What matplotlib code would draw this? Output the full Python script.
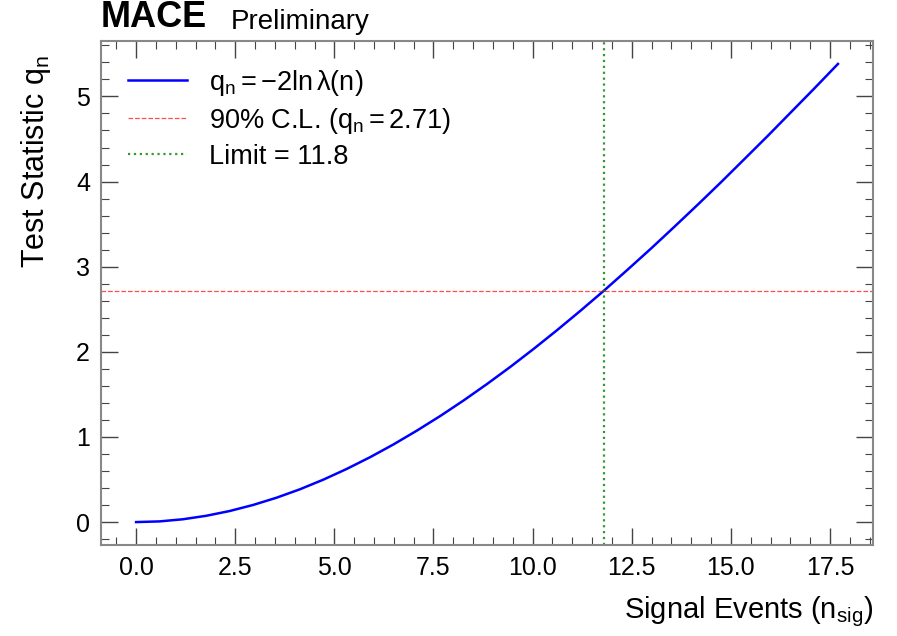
# Test statistic scan for MACE signal events
import matplotlib
matplotlib.use('Agg')
import matplotlib.pyplot as plt
from matplotlib.ticker import MultipleLocator, FormatStrFormatter

plt.rcParams['font.family'] = ['Liberation Sans', 'DejaVu Sans']
plt.rcParams['mathtext.fontset'] = 'custom'
plt.rcParams['mathtext.rm'] = 'Liberation Sans'
plt.rcParams['mathtext.it'] = 'Liberation Sans'
plt.rcParams['mathtext.default'] = 'regular'

# values
n_sig = [0.0, 0.59, 1.18, 1.77, 2.36, 2.95, 3.54, 4.13, 4.72, 5.31, 5.90,
         6.49, 7.08, 7.67, 8.26, 8.85, 9.44, 10.03, 10.62, 11.21, 11.80,
         12.39, 12.98, 13.57, 14.16, 14.75, 15.34, 15.93, 16.52, 17.11, 17.70]
q_n = [0.0, 0.008, 0.033, 0.074, 0.130, 0.201, 0.286, 0.385, 0.498, 0.624, 0.762,
       0.912, 1.074, 1.246, 1.429, 1.622, 1.824, 2.036, 2.256, 2.484, 2.719,
       2.963, 3.211, 3.467, 3.727, 3.992, 4.264, 4.537, 4.817, 5.097, 5.382]
cl_level = 2.71
limit = 11.8

fig = plt.figure(figsize=(8.97, 6.36), dpi=100)
ax = fig.add_axes([0.1126, 0.1431, 0.8607, 0.7924])

ax.plot(n_sig, q_n, color='blue', lw=1.8, label=r'$q_n = -2\ln\lambda(n)$')
ax.axhline(cl_level, color='red', ls='--', lw=0.9, alpha=0.7,
           label=r'90% C.L. ($q_n = 2.71$)')
ax.axvline(limit, color='green', ls=':', lw=1.6, alpha=0.8,
           label=f'Limit = {limit}')

ax.xaxis.set_major_locator(MultipleLocator(2.5))
ax.xaxis.set_minor_locator(MultipleLocator(0.5))
ax.yaxis.set_major_locator(MultipleLocator(1))
ax.yaxis.set_minor_locator(MultipleLocator(0.2))
ax.xaxis.set_major_formatter(FormatStrFormatter('%.1f'))

ax.tick_params(which='both', direction='in', top=True, right=True, color='#444444')
ax.tick_params(which='major', length=12, width=1.0, labelsize=18, pad=8)
ax.tick_params(which='minor', length=6, width=0.8)
for s in ax.spines.values():
    s.set_color('#888888')
    s.set_linewidth(1.5)

ax.set_xlabel(r'Signal Events ($n_{sig}$)', fontsize=21, loc='right', labelpad=10)
ax.set_ylabel(r'Test Statistic $q_n$', fontsize=22, loc='top')
ax.yaxis.set_label_coords(-0.062, 0.972)

ax.legend(loc='upper left', frameon=False, fontsize=19.5, handlelength=2.2,
          handletextpad=0.8, borderaxespad=0.3, bbox_to_anchor=(0.01, 0.985),
          labelspacing=0.3)

ax.text(0.0, 1.012, 'MACE', transform=ax.transAxes, fontsize=26,
        fontweight='bold', ha='left', va='bottom')
ax.text(0.168, 1.012, 'Preliminary', transform=ax.transAxes, fontsize=20,
        ha='left', va='bottom')

fig.savefig('out.png', dpi=100)
